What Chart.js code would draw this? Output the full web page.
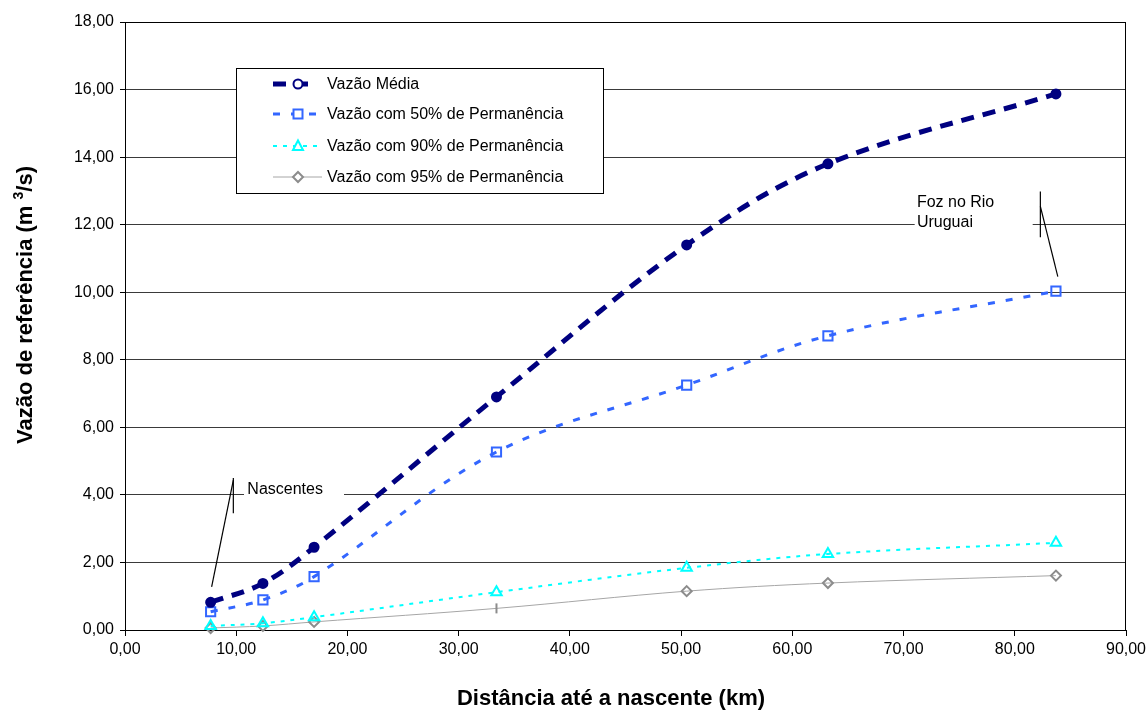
<!DOCTYPE html>
<html>
<head>
<meta charset="utf-8">
<script src="https://cdn.jsdelivr.net/npm/chart.js@4/dist/chart.umd.min.js"></script>
<style>
  html, body { margin: 0; padding: 0; background: #fff; }
  #wrap { width: 1148px; height: 711px; }
</style>
</head>
<body>
<div id="wrap"><canvas id="vazaoChart" width="1148" height="711"></canvas></div>
<script>
// Distância até a nascente (km) de cada ponto
const distancias = [7.7, 12.4, 17.0, 33.4, 50.5, 63.2, 83.7];
// Vazões (m3/s)
const vazaoMedia = [0.82, 1.38, 2.45, 6.90, 11.40, 13.80, 15.87];
const vazao50 = [0.54, 0.89, 1.58, 5.27, 7.25, 8.71, 10.03];
const vazao90 = [0.12, 0.20, 0.38, 1.12, 1.84, 2.25, 2.58];
const vazao95 = [0.06, 0.12, 0.24, 0.64, 1.15, 1.39, 1.61];
const nomes = ['Vazão Média', 'Vazão com 50% de Permanência', 'Vazão com 90% de Permanência', 'Vazão com 95% de Permanência'];

const fmt = v => v.toFixed(2).replace('.', ',');
const pts = arr => arr.map((y, i) => ({ x: distancias[i], y: y }));

const FONT = 'Liberation Sans, Arial, sans-serif';

// marker draw used by the legend box
function drawMarker(ctx, style, x, y, r, color, lw) {
    ctx.save();
    ctx.strokeStyle = color;
    ctx.lineWidth = lw;
    ctx.setLineDash([]);
    ctx.fillStyle = '#fff';
    ctx.beginPath();
    if (style === 'circle') {
        ctx.arc(x, y, r, 0, Math.PI * 2);
    } else if (style === 'rect') {
        ctx.rect(x - r, y - r, r * 2, r * 2);
    } else if (style === 'triangle') {
        ctx.moveTo(x, y - r * 1.1);
        ctx.lineTo(x + r, y + r * 0.8);
        ctx.lineTo(x - r, y + r * 0.8);
        ctx.closePath();
    } else {
        ctx.moveTo(x, y - r);
        ctx.lineTo(x + r, y);
        ctx.lineTo(x, y + r);
        ctx.lineTo(x - r, y);
        ctx.closePath();
    }
    ctx.fill();
    ctx.stroke();
    ctx.restore();
}

const boxPlugin = {
    id: 'boxPlugin',
    beforeDatasetsDraw(chart) {
        const { ctx, chartArea: a, scales } = chart;
        const xs = scales.x, ys = scales.y;
        ctx.save();
        // plot border (top / right)
        ctx.strokeStyle = '#000';
        ctx.lineWidth = 1;
        ctx.strokeRect(a.left + 0.5, a.top + 0.5, a.right - a.left - 1, a.bottom - a.top);

        // annotations (data coords)
        ctx.fillStyle = '#fff';
        ctx.fillRect(xs.getPixelForValue(10.7), ys.getPixelForValue(4.45), 100, 17);
        ctx.fillRect(xs.getPixelForValue(71.0), ys.getPixelForValue(13.0), 118, 36);
        ctx.fillStyle = '#000';
        ctx.font = '16px ' + FONT;
        ctx.textBaseline = 'middle';
        ctx.textAlign = 'left';
        ctx.fillText('Nascentes', xs.getPixelForValue(11.0), ys.getPixelForValue(4.15));
        ctx.fillText('Foz no Rio', xs.getPixelForValue(71.2), ys.getPixelForValue(12.65));
        ctx.fillText('Uruguai', xs.getPixelForValue(71.2), ys.getPixelForValue(12.06));

        ctx.lineWidth = 1.2;
        const seg = (x1, y1, x2, y2) => {
            ctx.beginPath();
            ctx.moveTo(xs.getPixelForValue(x1), ys.getPixelForValue(y1));
            ctx.lineTo(xs.getPixelForValue(x2), ys.getPixelForValue(y2));
            ctx.stroke();
        };
        seg(9.74, 4.5, 9.74, 3.46);
        seg(9.74, 4.44, 7.79, 1.28);
        seg(82.3, 12.98, 82.3, 11.63);
        seg(82.3, 12.54, 83.87, 10.46);
        ctx.restore();
    },
    afterDraw(chart) {
        const { ctx } = chart;
        const big = 'bold 22px ' + FONT, small = 'bold 14px ' + FONT;
        // x axis title
        ctx.save();
        ctx.fillStyle = '#000';
        ctx.font = big;
        ctx.textAlign = 'center';
        ctx.textBaseline = 'middle';
        ctx.fillText('Distância até a nascente (km)', 611, 699);
        ctx.restore();

        // y axis title with raised "3"
        ctx.save();
        ctx.translate(26, 305);
        ctx.rotate(-Math.PI / 2);
        ctx.fillStyle = '#000';
        ctx.textBaseline = 'middle';
        const p1 = 'Vazão de referência (m ', p2 = '3', p3 = '/s)';
        ctx.font = big;
        const w1 = ctx.measureText(p1).width, w3 = ctx.measureText(p3).width;
        ctx.font = small;
        const w2 = ctx.measureText(p2).width;
        let x0 = -(w1 + w2 + w3) / 2;
        ctx.font = big;
        ctx.fillText(p1, x0, 0);
        ctx.font = small;
        ctx.fillText(p2, x0 + w1, -7);
        ctx.font = big;
        ctx.fillText(p3, x0 + w1 + w2, 0);
        ctx.restore();

        // legend box
        const bx = 236, by = 68, bw = 367, bh = 125;
        ctx.save();
        ctx.fillStyle = '#fff';
        ctx.fillRect(bx, by, bw, bh);
        ctx.strokeStyle = '#000';
        ctx.lineWidth = 1;
        ctx.strokeRect(bx + 0.5, by + 0.5, bw, bh);
        const rows = [84, 114, 146, 177];
        chart.data.datasets.forEach((ds, i) => {
            const y = rows[i];
            ctx.save();
            ctx.strokeStyle = ds.borderColor;
            ctx.lineWidth = ds.borderWidth;
            ctx.setLineDash(ds.borderDash || []);
            ctx.beginPath();
            ctx.moveTo(273, y);
            ctx.lineTo(i === 0 ? 312 : 322, y);
            ctx.stroke();
            ctx.restore();
            drawMarker(ctx, ds.legendMarker, 298, y, ds.legendR, ds.pointBorderColor, 2);
            ctx.fillStyle = '#000';
            ctx.font = '16px ' + FONT;
            ctx.textBaseline = 'middle';
            ctx.fillText(ds.label, 327, y + 1);
        });
        ctx.restore();
    }
};

const ctx = document.getElementById('vazaoChart').getContext('2d');
const chart = new Chart(ctx, {
    type: 'line',
    data: {
        datasets: [
            {
                label: nomes[0],
                data: pts(vazaoMedia),
                borderColor: '#000080',
                borderWidth: 5,
                borderDash: [13, 9],
                pointStyle: 'circle',
                pointRadius: 4.5,
                pointBorderWidth: 2,
                pointBorderColor: '#000080',
                pointBackgroundColor: '#000080',
                legendMarker: 'circle',
                legendR: 4.5
            },
            {
                label: nomes[1],
                data: pts(vazao50),
                borderColor: '#3366FF',
                borderWidth: 3,
                borderDash: [7, 11],
                pointStyle: 'rect',
                pointRadius: 6.5,
                pointBorderWidth: 2,
                pointBorderColor: '#3366FF',
                pointBackgroundColor: 'rgba(0,0,0,0)',
                legendMarker: 'rect',
                legendR: 4.5
            },
            {
                label: nomes[2],
                data: pts(vazao90),
                borderColor: '#00FFFF',
                borderWidth: 2,
                borderDash: [4, 6],
                pointStyle: 'triangle',
                pointRadius: 6,
                pointBorderWidth: 2,
                pointBorderColor: '#00FFFF',
                pointBackgroundColor: 'rgba(0,0,0,0)',
                legendMarker: 'triangle',
                legendR: 5
            },
            {
                label: nomes[3],
                data: pts(vazao95),
                borderColor: '#A6A6A6',
                borderWidth: 1,
                borderDash: [],
                pointStyle: ['rectRot', 'rectRot', 'rectRot', 'line', 'rectRot', 'rectRot', 'rectRot'],
                pointRotation: [0, 0, 0, 90, 0, 0, 0],
                pointRadius: 5,
                pointBorderWidth: 2,
                pointBorderColor: '#8C8C8C',
                pointBackgroundColor: 'rgba(0,0,0,0)',
                legendMarker: 'diamond',
                legendR: 5
            }
        ]
    },
    options: {
        responsive: false,
        animation: false,
        clip: false,
        layout: { padding: { top: 22, right: 22, left: 0, bottom: 0 } },
        elements: { line: { tension: 0.35 } },
        plugins: {
            legend: { display: false },
            tooltip: { enabled: false }
        },
        scales: {
            x: {
                type: 'linear',
                min: 0,
                max: 90,
                afterFit: s => { s.height = 81; s.paddingRight = 0; s.paddingLeft = 0; },
                ticks: {
                    stepSize: 10,
                    color: '#000',
                    font: { family: FONT, size: 16 },
                    padding: 4,
                    maxRotation: 0,
                    callback: v => fmt(v)
                },
                grid: { drawOnChartArea: false, tickLength: 6, tickColor: '#000' },
                border: { color: '#000', width: 1 },
                title: { display: false }
            },
            y: {
                min: 0,
                max: 18,
                afterFit: s => { s.width = 125; },
                ticks: {
                    stepSize: 2,
                    color: '#000',
                    font: { family: FONT, size: 16 },
                    padding: 6,
                    callback: v => fmt(v)
                },
                grid: { color: '#3a3a3a', lineWidth: 1, tickLength: 5, tickColor: '#000' },
                border: { color: '#000', width: 1 },
                title: { display: false }
            }
        }
    },
    plugins: [boxPlugin]
});
</script>
</body>
</html>
